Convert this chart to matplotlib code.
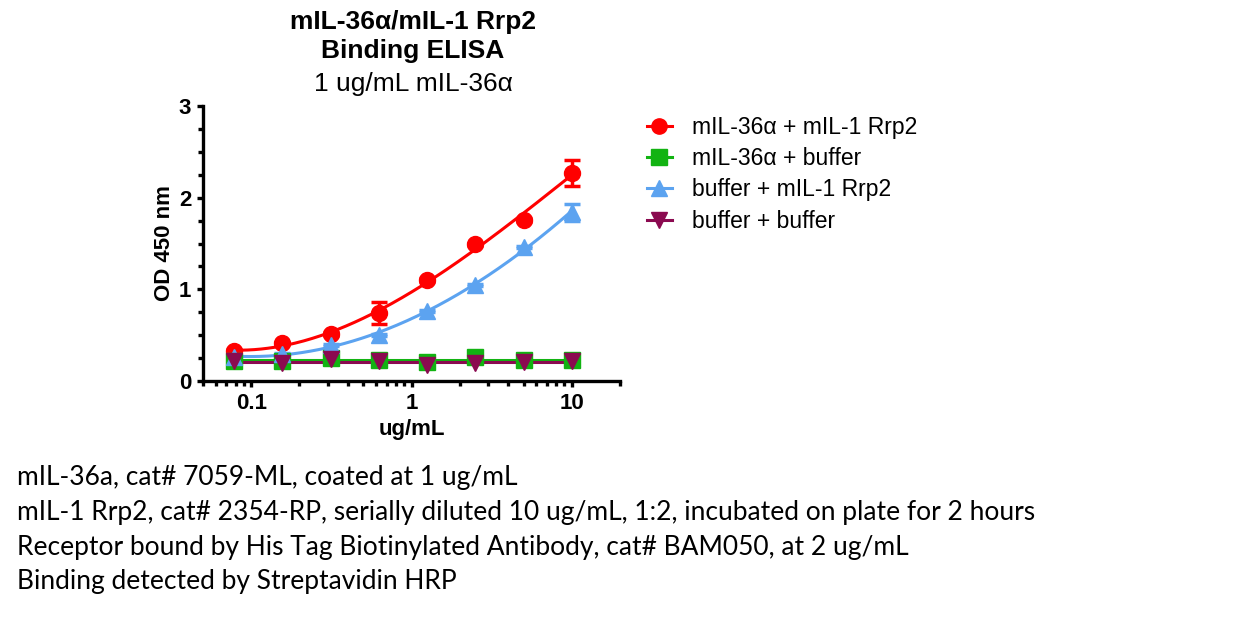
import numpy as np
import matplotlib
matplotlib.use("Agg")
import matplotlib.pyplot as plt
from matplotlib.ticker import LogLocator, MultipleLocator, FixedFormatter, FixedLocator, NullFormatter

plt.rcParams['font.family'] = ['Liberation Sans', 'DejaVu Sans']

# 1:2 serial dilution from 10 ug/mL
conc = [0.078, 0.156, 0.3125, 0.625, 1.25, 2.5, 5, 10]

od_rrp2 = [0.33, 0.41, 0.51, 0.74, 1.10, 1.49, 1.76, 2.27]
err_rrp2 = [0.02, 0.02, 0.02, 0.12, 0.02, 0.02, 0.02, 0.14]
od_il36_buf = [0.22, 0.22, 0.25, 0.23, 0.21, 0.26, 0.23, 0.23]
od_buf_rrp2 = [0.26, 0.30, 0.39, 0.50, 0.76, 1.05, 1.46, 1.84]
err_buf_rrp2 = [0.01, 0.01, 0.01, 0.01, 0.01, 0.01, 0.01, 0.09]
od_buf_buf = [0.22, 0.20, 0.24, 0.22, 0.18, 0.20, 0.21, 0.22]

series = [
    ("mIL-36α + mIL-1 Rrp2", od_rrp2, err_rrp2, "#FF0000", "o", 3),
    ("mIL-36α + buffer", od_il36_buf, None, "#12B312", "s", 0),
    ("buffer + mIL-1 Rrp2", od_buf_rrp2, err_buf_rrp2, "#5CA3F0", "^", 3),
    ("buffer + buffer", od_buf_buf, None, "#8B0A50", "v", 0),
]

notes = [
    "mIL-36a, cat# 7059-ML, coated at 1 ug/mL",
    "mIL-1 Rrp2, cat# 2354-RP, serially diluted 10 ug/mL, 1:2, incubated on plate for 2 hours",
    "Receptor bound by His Tag Biotinylated Antibody, cat# BAM050, at 2 ug/mL",
    "Binding detected by Streptavidin HRP",
]

fig = plt.figure(figsize=(12.53, 6.18), dpi=100)
ax = fig.add_axes([203 / 1253, 1 - 381 / 618, 417 / 1253, 275 / 618])

x = np.array(conc)
lx = np.log10(x)
xfit = np.logspace(lx[0], lx[-1], 200)
handles = []
for label, y, err, color, mk, deg in series:
    y = np.array(y)
    # smooth fitted curve (polynomial in log concentration)
    coef = np.polyfit(lx, y, deg)
    ax.plot(xfit, np.polyval(coef, np.log10(xfit)), color=color, lw=2.2, zorder=2)
    if err is not None:
        ax.errorbar(x, y, yerr=err, fmt="none", ecolor=color, elinewidth=2.5,
                    capsize=6, capthick=2.5, zorder=3)
    ax.plot(x, y, ls="none", marker=mk, ms=11.5, color=color, mec=color, zorder=4)
    h, = ax.plot([], [], color=color, lw=2.2, marker=mk, ms=11)
    handles.append(h)

ax.set_xscale("log")
ax.set_xlim(0.05, 20)
ax.set_ylim(0, 3)
ax.xaxis.set_major_locator(FixedLocator([0.1, 1, 10]))
ax.xaxis.set_major_formatter(FixedFormatter(["0.1", "1", "10"]))
ax.xaxis.set_minor_locator(LogLocator(base=10, subs=np.arange(2, 10)))
ax.xaxis.set_minor_formatter(NullFormatter())
ax.yaxis.set_major_locator(MultipleLocator(1))
ax.yaxis.set_minor_locator(MultipleLocator(0.25))

for s in ["top", "right"]:
    ax.spines[s].set_visible(False)
for s in ["left", "bottom"]:
    ax.spines[s].set_linewidth(2.4)
ax.tick_params(which="major", length=4.5, width=2.4, labelsize=16, pad=4)
ax.tick_params(which="minor", length=3.5, width=2.4)
for t in ax.get_xticklabels() + ax.get_yticklabels():
    t.set_fontweight("bold")

ax.set_xlabel("ug/mL", fontsize=16, fontweight="bold", labelpad=4)
ax.set_ylabel("OD 450 nm", fontsize=16, fontweight="bold", labelpad=3)

cx = 413 / 1253
fig.text(cx, 1 - 22 / 618, "mIL-36α/mIL-1 Rrp2", ha="center", va="center",
         fontsize=19, fontweight="bold")
fig.text(cx, 1 - 51 / 618, "Binding ELISA", ha="center", va="center",
         fontsize=19, fontweight="bold")
fig.text(cx, 1 - 84 / 618, "1 ug/mL mIL-36α", ha="center", va="center", fontsize=19)

fig.legend(handles, [s[0] for s in series], loc="upper left",
           bbox_to_anchor=(640 / 1253, 1 - 109 / 618), frameon=False,
           fontsize=16.5, handlelength=1.1, handletextpad=0.85, labelspacing=0.36,
           borderaxespad=0, borderpad=0.3)

for i, line in enumerate(notes):
    fig.text(17 / 1253, 1 - (478 + i * 34.6) / 618, line, ha="left", va="center",
             fontsize=19, family=["Lato", "DejaVu Sans"])

fig.savefig("out.png", dpi=100)
